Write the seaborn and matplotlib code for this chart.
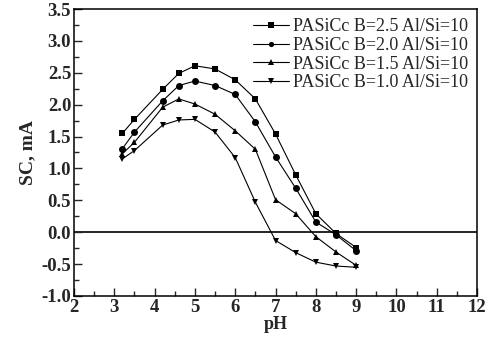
import numpy as np
import pandas as pd
import matplotlib
matplotlib.use("Agg")
import matplotlib.pyplot as plt
from matplotlib.ticker import MultipleLocator, FormatStrFormatter
import seaborn as sns

ph = [3.2, 3.5, 4.2, 4.6, 5.0, 5.5, 6.0, 6.5, 7.0, 7.5, 8.0, 8.5, 9.0]
sc_b25 = [1.55, 1.77, 2.24, 2.49, 2.61, 2.56, 2.39, 2.09, 1.54, 0.90, 0.29, -0.02, -0.24]
sc_b20 = [1.31, 1.57, 2.06, 2.30, 2.37, 2.30, 2.16, 1.73, 1.18, 0.69, 0.16, -0.04, -0.29]
sc_b15 = [1.23, 1.41, 1.96, 2.09, 2.01, 1.85, 1.59, 1.30, 0.51, 0.29, -0.07, -0.31, -0.52]
sc_b10 = [1.15, 1.28, 1.68, 1.76, 1.77, 1.57, 1.17, 0.47, -0.13, -0.32, -0.47, -0.53, -0.55]

labels = ["PASiCc B=2.5 Al/Si=10", "PASiCc B=2.0 Al/Si=10",
          "PASiCc B=1.5 Al/Si=10", "PASiCc B=1.0 Al/Si=10"]
series = [sc_b25, sc_b20, sc_b15, sc_b10]

df = pd.concat(
    [pd.DataFrame({"pH": ph, "SC": vals, "sample": lab}) for lab, vals in zip(labels, series)],
    ignore_index=True,
)

sns.set_theme(style="ticks")
plt.rcParams["font.family"] = ["Liberation Serif", "DejaVu Serif"]

fig = plt.figure(figsize=(4.98, 3.41), dpi=100)
ax = fig.add_axes([0.1486, 0.132, 0.8094, 0.8416])

markers = dict(zip(labels, ["s", "o", "^", "v"]))
sns.lineplot(
    data=df, x="pH", y="SC", hue="sample", style="sample",
    palette=["black"] * 4, markers=markers, dashes=False,
    markersize=5, linewidth=0.8, markeredgewidth=0,
    ax=ax,
)

ax.axhline(0, color="black", linewidth=1.2, zorder=0)

ax.set_xlim(2, 12)
ax.set_ylim(-1.0, 3.5)
ax.xaxis.set_major_locator(MultipleLocator(1))
ax.xaxis.set_minor_locator(MultipleLocator(0.5))
ax.yaxis.set_major_locator(MultipleLocator(0.5))
ax.yaxis.set_minor_locator(MultipleLocator(0.25))
ax.yaxis.set_major_formatter(FormatStrFormatter("%.1f"))
ax.tick_params(which="major", direction="in", length=6, width=1, labelsize=13.5,
               top=False, right=False, pad=2)
ax.tick_params(which="minor", direction="in", length=3.5, width=1, top=False, right=False)
for lab in ax.get_xticklabels() + ax.get_yticklabels():
    lab.set_fontweight("bold")
for sp in ax.spines.values():
    sp.set_linewidth(1.1)
    sp.set_color("black")

ax.set_xlabel("pH", fontsize=13, fontweight="bold", labelpad=0)
ax.set_ylabel("SC, mA", fontsize=14, fontweight="bold", labelpad=4)

leg = ax.legend(loc="upper right", frameon=False, fontsize=13,
                handlelength=2.0, handletextpad=0.2, labelspacing=0.1,
                borderaxespad=0.1, markerscale=0.75)

fig.savefig("out.png", dpi=100)
